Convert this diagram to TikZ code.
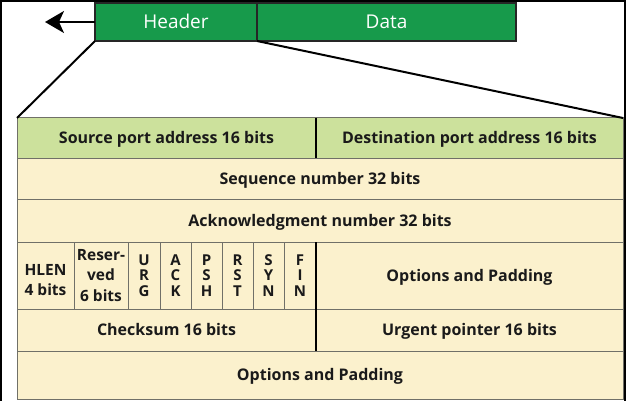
\documentclass[tikz,border=0pt]{standalone}
\usepackage{fontspec}
\setmainfont{Open Sans}
\usetikzlibrary{arrows.meta}
\definecolor{hdrgreen}{HTML}{179A4B}
\definecolor{ltgreen}{HTML}{CCE19C}
\definecolor{cream}{HTML}{FBF1CD}
\definecolor{gridgray}{HTML}{707068}
\definecolor{txt}{HTML}{1A1A1A}
\begin{document}
\begin{tikzpicture}[x=1pt,y=-1pt,
  base/.style={draw=gridgray, line width=1pt, fill=cream, inner sep=0pt, outer sep=0pt,
    text=txt, align=center},
  cell/.style={base, font=\bfseries\fontsize{16}{19}\selectfont, text height=11.4pt, text depth=0pt},
  flag/.style={base, font=\bfseries\fontsize{15}{15.5}\selectfont},
  small/.style={base, font=\bfseries\fontsize{15.5}{20.5}\selectfont},
  hbox/.style={draw=black!85, line width=1.5pt, fill=hdrgreen, inner sep=0pt, outer sep=0pt,
    text=white, font=\fontsize{19}{22}\selectfont, text height=13.6pt, text depth=0pt},
  split/.style={draw=black, line width=1.2pt},
  link/.style={draw=black, line width=2pt}]
\useasboundingbox (0,0) rectangle (626,401);
% header / data
\node[hbox, minimum width=162pt, minimum height=38pt] (hdr) at (176,22) {Header};
\node[hbox, minimum width=259pt, minimum height=38pt] (dat) at (386.5,22) {Data};
\coordinate (arrtip) at (45,22);
\draw[line width=2pt, -{Stealth[length=19pt,width=22pt,inset=5pt]}] (hdr.west) -- (arrtip);
% row 1
\node[cell, fill=ltgreen, minimum width=299pt, minimum height=40pt] (src) at (166.5,138) {Source port address 16 bits};
\node[cell, fill=ltgreen, minimum width=307pt, minimum height=40pt] (dst) at (469.5,138) {Destination port address 16 bits};
% row 2, 3
\node[cell, minimum width=606pt, minimum height=41pt] (seq) at (320,178.5) {Sequence number 32 bits};
\node[cell, minimum width=606pt, minimum height=43pt] (ackn) at (320,220.5) {Acknowledgment number 32 bits};
% row 4
\node[small, minimum width=57pt, minimum height=67pt] (hlen) at (45.5,275.5) {~\\HLEN\\4 bits};
\node[small, minimum width=54pt, minimum height=67pt] (res) at (101,275.5) {Reser-\\ved\\6 bits};
\node[flag, minimum width=32pt, minimum height=67pt] (urg) at (144,275.5) {U\\R\\G};
\node[flag, minimum width=31pt, minimum height=67pt] (ack) at (175.5,275.5) {A\\C\\K};
\node[flag, minimum width=31pt, minimum height=67pt] (psh) at (206.5,275.5) {P\\S\\H};
\node[flag, minimum width=31pt, minimum height=67pt] (rst) at (237.5,275.5) {R\\S\\T};
\node[flag, minimum width=31pt, minimum height=67pt] (syn) at (268.5,275.5) {S\\Y\\N};
\node[flag, minimum width=32pt, minimum height=67pt] (fin) at (300,275.5) {F\\I\\N};
\node[cell, minimum width=307pt, minimum height=67pt] (opt1) at (469.5,275.5) {Options and Padding};
% row 5
\node[cell, minimum width=299pt, minimum height=42pt] (chk) at (166.5,330) {Checksum 16 bits};
\node[cell, minimum width=307pt, minimum height=42pt] (urgp) at (469.5,330) {Urgent pointer 16 bits};
% row 6
\node[cell, minimum width=606pt, minimum height=48pt] (opt2) at (320,375) {Options and Padding};
% splits
\draw[split] (src.north east) -- (src.south east);
\draw[split] (fin.north east) -- (fin.south east);
\draw[split] (chk.north east) -- (chk.south east);
% zoom lines
\draw[link] (hdr.south west) -- (src.north west);
\draw[link] (hdr.south east) -- (dst.north east);
% outer frame
\draw[line width=2.5pt] (1,401) -- (1,1) -- (625,1) -- (625,401);
\end{tikzpicture}
\end{document}
